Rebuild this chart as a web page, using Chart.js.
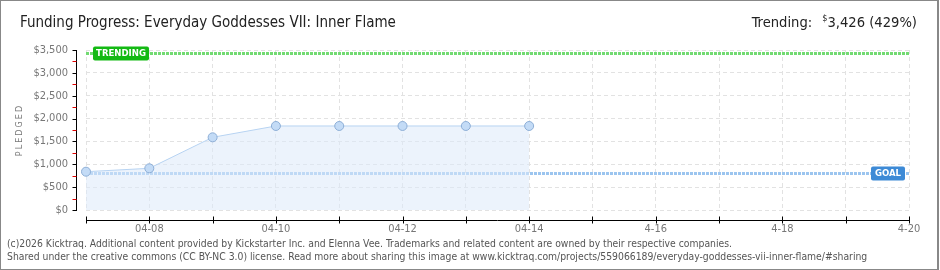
<!DOCTYPE html>
<html>
<head>
<meta charset="utf-8">
<script src="https://cdn.jsdelivr.net/npm/chart.js@4"></script>
<style>
  body { margin: 0; background: #fff; }
  #wrap { position: relative; width: 940px; height: 270px; font-family: "DejaVu Sans Condensed", "DejaVu Sans", sans-serif; }
  #frame { position: absolute; left: 0; top: 0; width: 936px; height: 268px; border: 1px solid #888; border-right: 2px solid #888; pointer-events: none; }
  #title { position: absolute; left: 20px; top: 13px; font-size: 15px; color: #222; white-space: nowrap; }
  #trend { position: absolute; right: 23px; top: 13px; font-size: 14.6px; color: #222; white-space: nowrap; }
  #trend sup { font-size: 9px; vertical-align: 6px; margin-left: 6px; }
  .foot { position: absolute; left: 7px; font-size: 10.3px; color: #555; white-space: nowrap; }
</style>
</head>
<body>
<div id="wrap">
  <canvas id="chart" width="940" height="270"></canvas>
  <div id="title">Funding Progress: Everyday Goddesses VII: Inner Flame</div>
  <div id="trend">Trending: <sup>$</sup>3,426 (429%)</div>
  <div class="foot" style="top:237px">(c)2026 Kicktraq. Additional content provided by Kickstarter Inc. and Elenna Vee. Trademarks and related content are owned by their respective companies.</div>
  <div class="foot" style="top:250px">Shared under the creative commons (CC BY-NC 3.0) license. Read more about sharing this image at www.kicktraq.com/projects/559066189/everyday-goddesses-vii-inner-flame/#sharing</div>
  <div id="frame"></div>
</div>
<script>
// chart data
const dates = ['04-07', '04-08', '04-09', '04-10', '04-11', '04-12', '04-13', '04-14', '04-15', '04-16', '04-17', '04-18', '04-19', '04-20'];
const tickLabels = ['', '04-08', '', '04-10', '', '04-12', '', '04-14', '', '4-16', '', '4-18', '', '4-20'];
const pledged = [838, 912, 1590, 1838, 1838, 1838, 1838, 1838, null, null, null, null, null, null];
const goal = 800;
const trending = 3426;

const labelFont = '"DejaVu Sans Condensed", "DejaVu Sans", sans-serif';

// axis lines sit 10px away from the plot, like the original
const axesPlugin = {
  id: 'axes',
  afterDraw(chart) {
    const { ctx, chartArea: a, scales: { x, y } } = chart;
    ctx.save();
    ctx.lineWidth = 1;

    const ax = a.left - 10 + 0.5;
    ctx.strokeStyle = '#000';
    ctx.beginPath();
    ctx.moveTo(ax, a.top);
    ctx.lineTo(ax, a.bottom + 1);
    ctx.stroke();
    for (let v = 0; v <= 3500; v += 250) {
      const py = Math.round(y.getPixelForValue(v)) + 0.5;
      ctx.strokeStyle = v % 500 ? '#e00000' : '#000';
      ctx.beginPath();
      ctx.moveTo(ax - 4, py);
      ctx.lineTo(ax, py);
      ctx.stroke();
    }

    const ay = a.bottom + 10 + 0.5;
    ctx.strokeStyle = '#000';
    ctx.beginPath();
    ctx.moveTo(a.left, ay);
    ctx.lineTo(a.right, ay);
    ctx.stroke();
    dates.forEach((d, i) => {
      const px = Math.round(x.getPixelForValue(i)) + 0.5;
      ctx.beginPath();
      ctx.moveTo(px, ay - 4);
      ctx.lineTo(px, ay + 3);
      ctx.stroke();
    });

    // y axis title
    ctx.translate(20, (a.top + a.bottom) / 2);
    ctx.rotate(-Math.PI / 2);
    ctx.fillStyle = '#777';
    ctx.font = '9px ' + labelFont;
    ctx.letterSpacing = '2px';
    ctx.textAlign = 'center';
    ctx.textBaseline = 'middle';
    ctx.fillText('PLEDGED', 0, 0);
    ctx.restore();
  },
  afterDatasetsDraw(chart) {
    const { ctx, chartArea: a, scales: { y } } = chart;
    const tag = (text, left, w, py, color) => {
      ctx.fillStyle = color;
      ctx.beginPath();
      ctx.roundRect(left, py - 7, w, 14, 2);
      ctx.fill();
      ctx.fillStyle = '#fff';
      ctx.font = 'bold 9.5px ' + labelFont;
      ctx.textAlign = 'center';
      ctx.textBaseline = 'middle';
      ctx.fillText(text, left + w / 2, py + 0.5);
    };
    ctx.save();
    tag('TRENDING', a.left + 7, 56, y.getPixelForValue(trending), '#13b913');
    tag('GOAL', a.right - 38, 34, y.getPixelForValue(goal), '#3d8ad6');
    ctx.restore();
  }
};

new Chart(document.getElementById('chart'), {
  type: 'line',
  data: {
    labels: dates,
    datasets: [
      {
        label: 'Pledged',
        data: pledged,
        order: 0,
        borderColor: '#b7d3f2',
        borderWidth: 1,
        backgroundColor: 'rgba(221, 234, 250, 0.55)',
        fill: 'origin',
        tension: 0,
        pointRadius: 4.5,
        pointBackgroundColor: '#c3dbf6',
        pointBorderColor: '#8daed6',
        pointBorderWidth: 1
      },
      {
        label: 'Goal',
        data: dates.map(() => goal),
        order: 1,
        borderColor: '#9cc5ef',
        borderWidth: 3,
        borderDash: [3, 1],
        pointRadius: 0,
        fill: false
      },
      {
        label: 'Trending',
        data: dates.map(() => trending),
        order: 1,
        borderColor: '#72da72',
        borderWidth: 3,
        borderDash: [3, 1],
        pointRadius: 0,
        fill: false
      }
    ]
  },
  options: {
    responsive: false,
    animation: false,
    layout: { padding: { left: 0, right: 31, top: 50, bottom: 0 } },
    plugins: {
      legend: { display: false },
      tooltip: { enabled: false }
    },
    scales: {
      x: {
        afterFit(scale) { scale.height = 60; },
        border: { display: false, dash: [4, 3] },
        grid: { color: '#e2e2e2', drawTicks: false },
        ticks: {
          autoSkip: false,
          maxRotation: 0,
          padding: 13,
          color: '#777',
          font: { family: labelFont, size: 11 },
          callback: (v, i) => tickLabels[i]
        }
      },
      y: {
        min: 0,
        max: 3500,
        afterFit(scale) { scale.width = 86; },
        border: { display: false, dash: [4, 3] },
        grid: { color: '#e2e2e2', drawTicks: false },
        ticks: {
          stepSize: 500,
          padding: 18,
          color: '#777',
          font: { family: labelFont, size: 11 },
          callback: v => '$' + v.toLocaleString('en-US')
        }
      }
    }
  },
  plugins: [axesPlugin]
});
</script>
</body>
</html>
